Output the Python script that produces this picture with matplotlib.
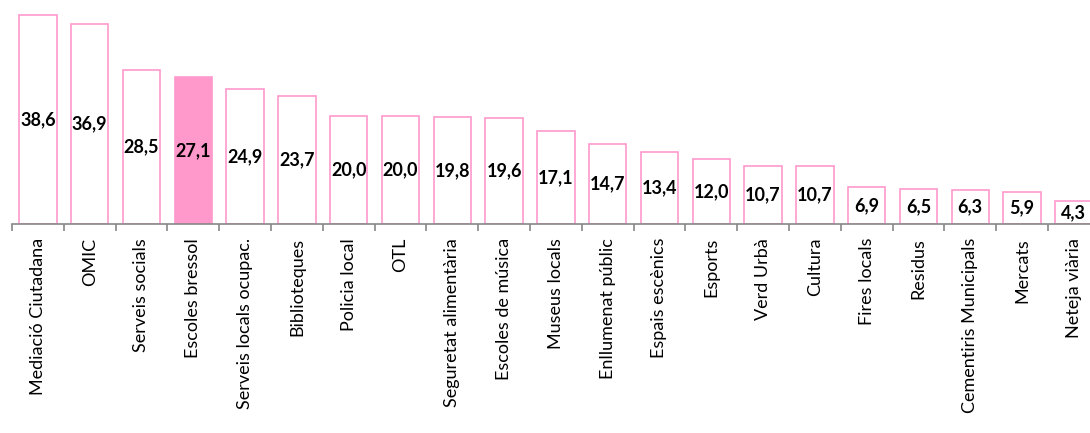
import matplotlib.pyplot as plt
import numpy as np

categories = ["Mediació Ciutadana", "OMIC", "Serveis socials", "Escoles bressol",
              "Serveis locals ocupac.", "Biblioteques", "Policia local", "OTL",
              "Seguretat alimentària", "Escoles de música", "Museus locals",
              "Enllumenat públic", "Espais escènics", "Esports", "Verd Urbà",
              "Cultura", "Fires locals", "Residus", "Cementiris Municipals",
              "Mercats", "Neteja viària"]
values = [38.6, 36.9, 28.5, 27.1, 24.9, 23.7, 20.0, 20.0, 19.8, 19.6, 17.1,
          14.7, 13.4, 12.0, 10.7, 10.7, 6.9, 6.5, 6.3, 5.9, 4.3]
highlight = "Escoles bressol"

pink = "#FF99CC"
grey = "#888888"

fig = plt.figure(figsize=(10.9, 4.33), dpi=100)
ax = fig.add_axes([12 / 1090, 209 / 433, 21 * 51.8 / 1090, 216.4 / 433])

x = np.arange(len(categories))
faces = [pink if c == highlight else "white" for c in categories]
bars = ax.bar(x, values, width=0.72, color=faces, edgecolor=pink, linewidth=1.2)

for xi, v in zip(x, values):
    ax.text(xi, v / 2, f"{v:.1f}".replace(".", ","), ha="center", va="center",
            fontsize=13, fontweight="bold", family="Lato")

ax.set_xlim(-0.5, len(categories) - 0.5)
ax.set_ylim(0, 40)
ax.set_yticks([])
for s in ["top", "right", "left"]:
    ax.spines[s].set_visible(False)
ax.spines["bottom"].set_color(grey)
ax.spines["bottom"].set_linewidth(1.2)

ax.set_xticks(x)
ax.set_xticklabels(categories, rotation=90, fontsize=13, family="Lato")
ax.tick_params(axis="x", which="major", length=0, pad=10)
ax.set_xticks(np.arange(-0.5, len(categories)), minor=True)
ax.tick_params(axis="x", which="minor", length=5, color=grey, width=1.2)

fig.savefig("out.png", dpi=100)
